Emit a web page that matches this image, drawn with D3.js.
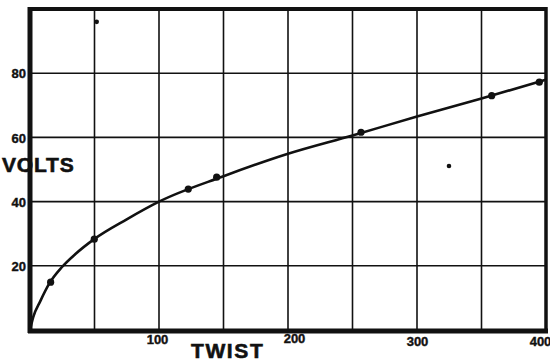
<!DOCTYPE html>
<html>
<head>
<meta charset="utf-8">
<script src="https://cdn.jsdelivr.net/npm/d3@7"></script>
<style>
  html, body { margin: 0; padding: 0; background: #fff; }
  svg { display: block; }
  text { font-family: "Liberation Sans", Arial, Helvetica, sans-serif; font-weight: bold; fill: #111; }
</style>
</head>
<body>
<svg id="chart" width="550" height="363"></svg>
<script>
// ---- data ----
const xTickValues = [100, 200, 300, 400];
const yTickValues = [20, 40, 60, 80];
const xGridValues = [50, 100, 150, 200, 250, 300, 350];
const yGridValues = [20, 40, 60, 80];

// smooth fitted curve (twist vs volts)
const curveTwist = [0, 2.5, 8, 15, 25, 35, 50, 75, 100, 150, 200, 250, 300, 350, 400];
const curveVolts = [0, 4, 9, 14.5, 19.7, 23.6, 28.4, 34.5, 40, 47.9, 54.9, 60.6, 66.5, 72.1, 78];

// observed points
const pointTwist = [16, 49.8, 122.7, 144.7, 256.6, 357.9, 394.8];
const pointVolts = [14.9, 28.3, 43.9, 47.6, 61.6, 73.0, 77.2];

// small stray points
const strayTwist = [324.8, 51.7];
const strayVolts = [51.1, 96.0];

const xLabel = "TWIST";
const yLabel = "VOLTS";

// ---- chart ----
const svg = d3.select("#chart");
const x = d3.scaleLinear().domain([0, 400]).range([30, 546]);
const y = d3.scaleLinear().domain([0, 100]).range([330, 9]);
const ink = "#111";

// grid
svg.append("g").selectAll("line").data(xGridValues).join("line")
  .attr("x1", d => x(d)).attr("x2", d => x(d))
  .attr("y1", y(100)).attr("y2", y(0))
  .attr("stroke", ink).attr("stroke-width", 1.6);
svg.append("g").selectAll("line").data(yGridValues).join("line")
  .attr("x1", x(0)).attr("x2", x(400))
  .attr("y1", d => y(d)).attr("y2", d => y(d))
  .attr("stroke", ink).attr("stroke-width", 1.6);

// frame
svg.append("line").attr("x1", x(0)).attr("x2", x(400)).attr("y1", y(100)).attr("y2", y(100))
  .attr("stroke", ink).attr("stroke-width", 4);
svg.append("line").attr("x1", x(400)).attr("x2", x(400)).attr("y1", y(100) - 2).attr("y2", y(0) + 2)
  .attr("stroke", ink).attr("stroke-width", 3.5);
svg.append("line").attr("x1", x(0)).attr("x2", x(0)).attr("y1", y(100) - 2).attr("y2", y(0) + 3)
  .attr("stroke", ink).attr("stroke-width", 5);
svg.append("line").attr("x1", x(0) - 2).attr("x2", x(400) + 2).attr("y1", y(0) + 1).attr("y2", y(0) + 1)
  .attr("stroke", ink).attr("stroke-width", 5);

// axis tick labels via d3 axes (domain and ticks hidden)
const xAxis = d3.axisBottom(x).tickValues(xTickValues).tickSize(0).tickPadding(0).tickFormat(d3.format("d"));
const gx = svg.append("g").attr("transform", `translate(0, ${y(0) + 7})`).call(xAxis);
gx.select(".domain").remove();
gx.selectAll("text").attr("font-size", 13).attr("dy", "0.72em")
  .attr("fill", ink).attr("stroke", ink).attr("stroke-width", 0.4)
  .style("font-family", '"Liberation Sans", Arial, sans-serif').style("font-weight", "bold")
  .attr("dx", d => d === 400 ? -6 : (d === 100 ? -2 : (d === 200 ? 6 : 0)))
  .attr("transform", d => d === 200 ? "translate(0,-3)" : (d === 100 ? "translate(0,-2)" : null));

const yAxis = d3.axisLeft(y).tickValues(yTickValues).tickSize(0).tickPadding(0).tickFormat(d3.format("d"));
const gy = svg.append("g").attr("transform", `translate(${x(0) - 4}, 0)`).call(yAxis);
gy.select(".domain").remove();
gy.selectAll("text").attr("font-size", 13).attr("dy", "0.36em")
  .attr("fill", ink).attr("stroke", ink).attr("stroke-width", 0.4)
  .style("font-family", '"Liberation Sans", Arial, sans-serif').style("font-weight", "bold");

// curve
const curveData = curveTwist.map((t, i) => [t, curveVolts[i]]);
const line = d3.line().x(d => x(d[0])).y(d => y(d[1])).curve(d3.curveMonotoneX);
svg.append("path").datum(curveData).attr("d", line)
  .attr("fill", "none").attr("stroke", ink).attr("stroke-width", 2.6);

// points
const pts = pointTwist.map((t, i) => [t, pointVolts[i]]);
svg.append("g").selectAll("circle").data(pts).join("circle")
  .attr("cx", d => x(d[0])).attr("cy", d => y(d[1])).attr("r", 3.6).attr("fill", ink);

const strays = strayTwist.map((t, i) => [t, strayVolts[i]]);
svg.append("g").selectAll("circle").data(strays).join("circle")
  .attr("cx", d => x(d[0])).attr("cy", d => y(d[1])).attr("r", 2.3).attr("fill", ink);

// axis titles
svg.append("text").attr("x", 2).attr("y", 172).attr("font-size", 21)
  .attr("stroke", ink).attr("stroke-width", 0.6)
  .attr("letter-spacing", 0.8).text(yLabel);
svg.append("text").attr("x", 191).attr("y", 358).attr("font-size", 21)
  .attr("stroke", ink).attr("stroke-width", 0.6)
  .attr("letter-spacing", 1.6).text(xLabel);
</script>
</body>
</html>
